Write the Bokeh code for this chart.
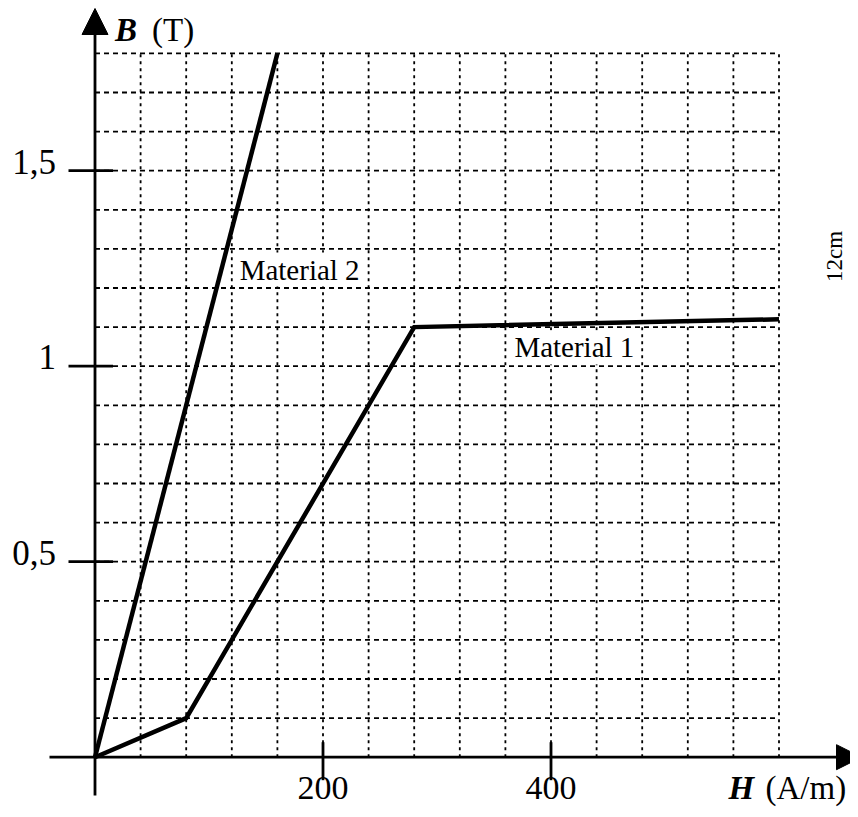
import numpy as np
from bokeh.plotting import figure
from bokeh.models import Range1d, Arrow, NormalHead
from bokeh.core.properties import value
from bokeh.embed import file_html
from bokeh.resources import INLINE

# ---------------- data ----------------
M1_H = [0, 80, 280, 600]
M1_B = [0, 0.1, 1.1, 1.12]
M2_H = [0, 160]
M2_B = [0, 1.8]

H_TICKS = [200, 400]
H_TICK_LABELS = ["200", "400"]
B_TICKS = [0.5, 1.0, 1.5]
B_TICK_LABELS = ["0,5", "1", "1,5"]

GRID_H = [40, 80, 120, 160, 200, 240, 280, 320, 360, 400, 440, 480, 520, 560, 600]
GRID_B = [0.1, 0.2, 0.3, 0.4, 0.5, 0.6, 0.7, 0.8, 0.9, 1.0,
          1.1, 1.2, 1.3, 1.4, 1.5, 1.6, 1.7, 1.8]
H_MAX = 600
B_MAX = 1.8

LABELS = ["Material 2", "Material 1"]
LABEL_H = [126, 367]
LABEL_B = [1.224, 1.025]

# ---------------- geometry ----------------
W, HGT = 850, 809
X0_PX = 94.5      # px of H = 0
Y0_PX = 756.7     # px of B = 0
SX = 1.14         # px per A/m
SY = 391.0        # px per T

x_start = -X0_PX / SX
x_end = (W - X0_PX) / SX
y_end = Y0_PX / SY
y_start = -(HGT - Y0_PX) / SY

FONT = value("Liberation Serif")

p = figure(width=W, height=HGT,
           x_range=Range1d(x_start, x_end), y_range=Range1d(y_start, y_end),
           output_backend="svg", toolbar_location=None,
           x_axis_location=None, y_axis_location=None,
           min_border=0, outline_line_color=None,
           background_fill_color="white", border_fill_color="white")
p.xgrid.visible = False
p.ygrid.visible = False

# grid
p.segment(x0=GRID_H, y0=0, x1=GRID_H, y1=B_MAX,
          line_color="black", line_width=1.8, line_dash="3 4")
p.segment(x0=0, y0=GRID_B, x1=H_MAX, y1=GRID_B,
          line_color="black", line_width=1.8, line_dash="5 4")

# axes with arrows
x_axis_left = -45.5 / SX
x_tip = (861 - X0_PX) / SX
y_axis_bottom = -(38.3) / SY
y_tip = (Y0_PX - 8) / SY
p.add_layout(Arrow(x_start=x_axis_left, y_start=0, x_end=x_tip, y_end=0,
                   line_width=2.8, line_color="black",
                   end=NormalHead(size=25, fill_color="black", line_color="black", line_width=1)))
p.add_layout(Arrow(x_start=0, y_start=y_axis_bottom, x_end=0, y_end=y_tip,
                   line_width=2.8, line_color="black",
                   end=NormalHead(size=26, fill_color="black", line_color="black", line_width=1)))

# ticks
p.segment(x0=H_TICKS, y0=15 / SY, x1=H_TICKS, y1=-23 / SY,
          line_color="black", line_width=2.8)
p.segment(x0=-26.5 / SX, y0=B_TICKS, x1=18 / SX, y1=B_TICKS,
          line_color="black", line_width=2.8)

# tick labels
p.text(x=H_TICKS, y=0, text=H_TICK_LABELS, text_align="center",
       text_baseline="alphabetic", y_offset=31,
       text_font=FONT, text_font_size="34px", text_color="black")
p.text(x=0, y=B_TICKS, text=B_TICK_LABELS, text_align="right",
       text_baseline="alphabetic", x_offset=-39, y_offset=-9,
       text_font=FONT, text_font_size="35px", text_color="black")

# axis titles
p.text(x=0, y=B_MAX, text=["B"], text_align="left", text_baseline="alphabetic",
       x_offset=20, y_offset=-23, text_font=FONT, text_font_style="bold italic",
       text_font_size="33px", text_color="black")
p.text(x=0, y=B_MAX, text=["(T)"], text_align="left", text_baseline="alphabetic",
       x_offset=57, y_offset=-23, text_font=FONT,
       text_font_size="33px", text_color="black")
p.text(x=(728 - X0_PX) / SX, y=0, text=["H"], text_align="left", text_baseline="alphabetic",
       y_offset=31, text_font=FONT, text_font_style="bold italic",
       text_font_size="33px", text_color="black")
p.text(x=(765 - X0_PX) / SX, y=0, text=["(A/m)"], text_align="left", text_baseline="alphabetic",
       y_offset=31, text_font=FONT,
       text_font_size="33px", text_color="black")

# curves
p.line(M1_H, M1_B, line_color="black", line_width=4.5, line_join="miter")
p.line(M2_H, M2_B, line_color="black", line_width=4.5)

# material labels
p.text(x=LABEL_H, y=LABEL_B, text=LABELS, text_align="left", text_baseline="alphabetic",
       y_offset=-9, text_font=FONT, text_font_size="29px", text_color="black",
       background_fill_color="white", padding=1)

# side note
p.text(x=(834 - X0_PX) / SX, y=(Y0_PX - 256) / SY, text=["12cm"],
       angle=np.pi / 2, text_align="center", text_baseline="middle",
       text_font=FONT, text_font_size="23px", text_color="black")

open("out.html", "w").write(file_html(p, INLINE))
